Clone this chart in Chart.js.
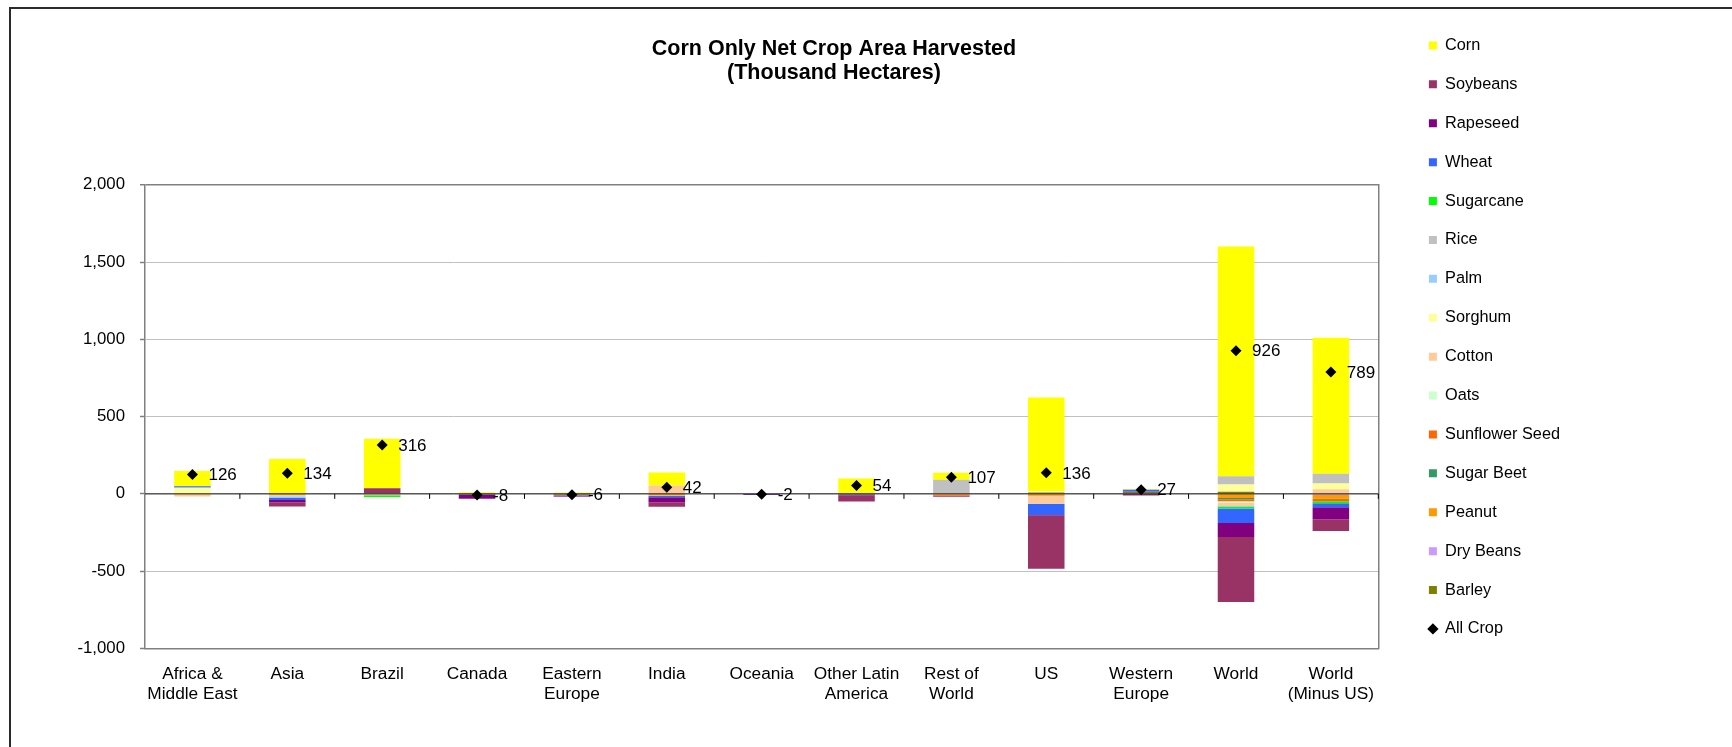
<!DOCTYPE html>
<html>
<head>
<meta charset="utf-8">
<script src="https://cdn.jsdelivr.net/npm/chart.js@4.4.0/dist/chart.umd.min.js"></script>
<style>
  html, body { margin: 0; padding: 0; background: #fff; }
  body { width: 1732px; height: 747px; overflow: hidden; position: relative; }
  #frame { position: absolute; left: 9px; top: 7px; width: 1800px; height: 800px; border: 2px solid #2b2b2b; box-sizing: border-box; }
  #wrap { position: absolute; left: 0; top: 0; width: 1732px; height: 747px; }
</style>
</head>
<body>
<div id="frame"></div>
<div id="wrap"><canvas id="myChart"></canvas></div>
<script>
// regions on the x axis
const categories = [
  ['Africa &', 'Middle East'], 'Asia', 'Brazil', 'Canada', ['Eastern', 'Europe'], 'India',
  'Oceania', ['Other Latin', 'America'], ['Rest of', 'World'], 'US', ['Western', 'Europe'],
  'World', ['World', '(Minus US)']
];

// net area change by crop, thousand hectares
const corn          = [99, 226, 319, 11, 9, 85, 4, 100, 45, 606, 6, 1486, 880];
const soybeans      = [0, -28, 37, -4, -2, -28, -1, -40, -6, -346, -2, -420, -74];
const rapeseed      = [0, -14, 0, -24, -3, -34, -4, -4, 0, -3, -9, -91, -80];
const wheat         = [8, -14, 0, -3, -5, -8, -1, -6, 0, -72, 13, -93, -26];
const sugarcane     = [0, 0, -12, 0, 0, 0, 0, 0, 0, 0, 0, -10, -13];
const rice          = [0, 0, 0, 0, 0, 0, 0, 0, 92, 0, 0, 54, 63];
const palm          = [4, -10, 0, 0, 0, -4, 0, 0, 0, 0, 0, -6, 0];
const sorghum       = [37, 0, 0, 0, 0, 0, 0, 0, 0, 8, 0, 47, 37];
const cotton        = [-17, -10, -9, 0, 0, 54, 0, 0, 0, -50, 0, -22, 30];
const oats          = [0, 0, 0, 0, 0, 0, 0, 0, 0, 0, 0, -9, 0];
const sunflowerSeed = [0, 0, 0, 0, -4, 0, 0, 0, -6, -4, 0, -13, -15];
const sugarBeet     = [0, 0, 0, 0, 0, 0, 0, 0, 0, 0, 0, -9, 0];
const peanut        = [0, -6, 0, 0, 0, -10, 0, 0, -6, -10, 0, -26, -24];
const dryBeans      = [0, 0, 0, -2, 0, 0, 0, 0, 0, 0, 0, 0, -8];
const barley        = [0, 0, 0, 0, -5, 0, 0, 0, 0, 9, 13, 13, 0];
const allCrop       = [126, 134, 316, -8, -6, 42, -2, 54, 107, 136, 27, 926, 789];

const yTickValues = [-1000, -500, 0, 500, 1000, 1500, 2000];

// legend order (top to bottom); stacking goes the other way, Barley next to zero
const crops = [
  ['Corn', corn, '#FFFF00'],
  ['Soybeans', soybeans, '#993366'],
  ['Rapeseed', rapeseed, '#800080'],
  ['Wheat', wheat, '#3366FF'],
  ['Sugarcane', sugarcane, '#00FF00'],
  ['Rice', rice, '#C0C0C0'],
  ['Palm', palm, '#99CCFF'],
  ['Sorghum', sorghum, '#FFFF99'],
  ['Cotton', cotton, '#FFCC99'],
  ['Oats', oats, '#CCFFCC'],
  ['Sunflower Seed', sunflowerSeed, '#FF6600'],
  ['Sugar Beet', sugarBeet, '#339966'],
  ['Peanut', peanut, '#FF9900'],
  ['Dry Beans', dryBeans, '#CC99FF'],
  ['Barley', barley, '#808000']
];

const FONT = "'Liberation Sans', Arial, sans-serif";
const TITLE_CENTER = 834;   // title is centred on the whole chart object, not the plot
const fmt = new Intl.NumberFormat('en-US');

const barSets = crops.slice().reverse().map(([label, data, color]) => ({
  type: 'bar',
  label: label,
  data: data,
  backgroundColor: color,
  borderWidth: 0,
  pointStyle: 'rect',
  barPercentage: 0.385,
  categoryPercentage: 1,
  order: 1
}));
const markerIndex = barSets.length;

const markerSet = {
  type: 'line',
  label: 'All Crop',
  data: allCrop,
  showLine: false,
  pointStyle: 'rectRot',
  pointRadius: 5.5,
  pointBackgroundColor: '#000',
  pointBorderWidth: 0,
  backgroundColor: '#000',
  borderColor: '#000',
  borderWidth: 0,
  order: 0
};

function legendRank(i) {
  return i === markerIndex ? 99 : markerIndex - 1 - i;
}

// move the title block so it is centred where the original had it
const titleShift = {
  id: 'titleShift',
  afterLayout(chart) {
    const tb = chart.titleBlock;
    if (!tb) return;
    const w = tb.right - tb.left;
    tb.left = TITLE_CENTER - w / 2;
    tb.right = TITLE_CENTER + w / 2;
  }
};

// black category axis line at zero with tick marks between regions
const zeroAxis = {
  id: 'zeroAxis',
  beforeDatasetDraw(chart, args) {
    if (args.index !== markerIndex) return;
    const { ctx, chartArea, scales: { x, y } } = chart;
    const y0 = y.getPixelForValue(0);
    const half = (x.getPixelForValue(1) - x.getPixelForValue(0)) / 2;
    ctx.save();
    ctx.strokeStyle = '#000';
    ctx.lineWidth = 1;
    ctx.beginPath();
    ctx.moveTo(chartArea.left, y0);
    ctx.lineTo(chartArea.right, y0);
    for (let i = 0; i < categories.length; i++) {
      const xb = x.getPixelForValue(i) + half;
      ctx.moveTo(xb, y0);
      ctx.lineTo(xb, y0 + 5);
    }
    ctx.stroke();
    ctx.restore();
  }
};

// value labels to the right of the All Crop markers
const allCropLabels = {
  id: 'allCropLabels',
  afterDatasetsDraw(chart) {
    const meta = chart.getDatasetMeta(markerIndex);
    const ctx = chart.ctx;
    ctx.save();
    ctx.font = '17px ' + FONT;
    ctx.fillStyle = '#000';
    ctx.textAlign = 'left';
    ctx.textBaseline = 'middle';
    meta.data.forEach((pt, i) => ctx.fillText(String(allCrop[i]), pt.x + 16, pt.y + 1));
    ctx.restore();
  }
};

const ctx = document.getElementById('myChart').getContext('2d');
const myChart = new Chart(ctx, {
  type: 'bar',
  data: {
    labels: categories,
    datasets: barSets.concat([markerSet])
  },
  options: {
    responsive: true,
    maintainAspectRatio: false,
    animation: false,
    events: [],
    layout: { padding: { left: 60, right: 162, top: 14.7, bottom: 0 } },
    plugins: {
      title: {
        display: true,
        text: ['Corn Only Net Crop Area Harvested', '(Thousand Hectares)'],
        color: '#000',
        font: { family: FONT, size: 21.5, weight: 'bold', lineHeight: 1.13 },
        padding: { top: 21.9, bottom: 99.6 }
      },
      legend: {
        position: 'right',
        align: 'start',
        labels: {
          usePointStyle: true,
          boxWidth: 8,
          boxHeight: 8,
          padding: 22.6,
          color: '#000',
          font: { family: FONT, size: 16.3 },
          sort: (a, b) => legendRank(a.datasetIndex) - legendRank(b.datasetIndex)
        }
      },
      tooltip: { enabled: false }
    },
    scales: {
      x: {
        stacked: true,
        grid: { display: false, drawTicks: false },
        border: { display: true, color: '#808080', width: 1.5 },
        ticks: {
          color: '#000',
          font: { family: FONT, size: 17.3, lineHeight: 1.15 },
          padding: 16,
          maxRotation: 0,
          autoSkip: false
        },
        afterFit(s) { s.height = 98.6; }
      },
      y: {
        stacked: true,
        min: -1000,
        max: 2000,
        afterBuildTicks(s) { s.ticks = yTickValues.map(v => ({ value: v })); },
        grid: {
          color: c => c.tick.value === 2000 ? '#808080' : (c.tick.value === 0 || c.tick.value === -1000 ? 'rgba(0,0,0,0)' : '#c0c0c0'),
          lineWidth: c => c.tick.value === 2000 ? 1.5 : 1,
          tickLength: 5,
          tickColor: '#808080',
          tickWidth: 1.5
        },
        border: { display: true, color: '#808080', width: 1.5 },
        ticks: {
          color: '#000',
          font: { family: FONT, size: 16.8 },
          padding: 15,
          callback: v => fmt.format(v)
        },
        afterFit(s) { s.width = 85; }
      },
      y2: {
        position: 'right',
        display: true,
        grid: { display: false, drawTicks: false },
        ticks: { display: false },
        border: { display: true, color: '#808080', width: 1.5 },
        afterFit(s) { s.width = 28; }
      }
    }
  },
  plugins: [titleShift, zeroAxis, allCropLabels]
});
</script>
</body>
</html>
